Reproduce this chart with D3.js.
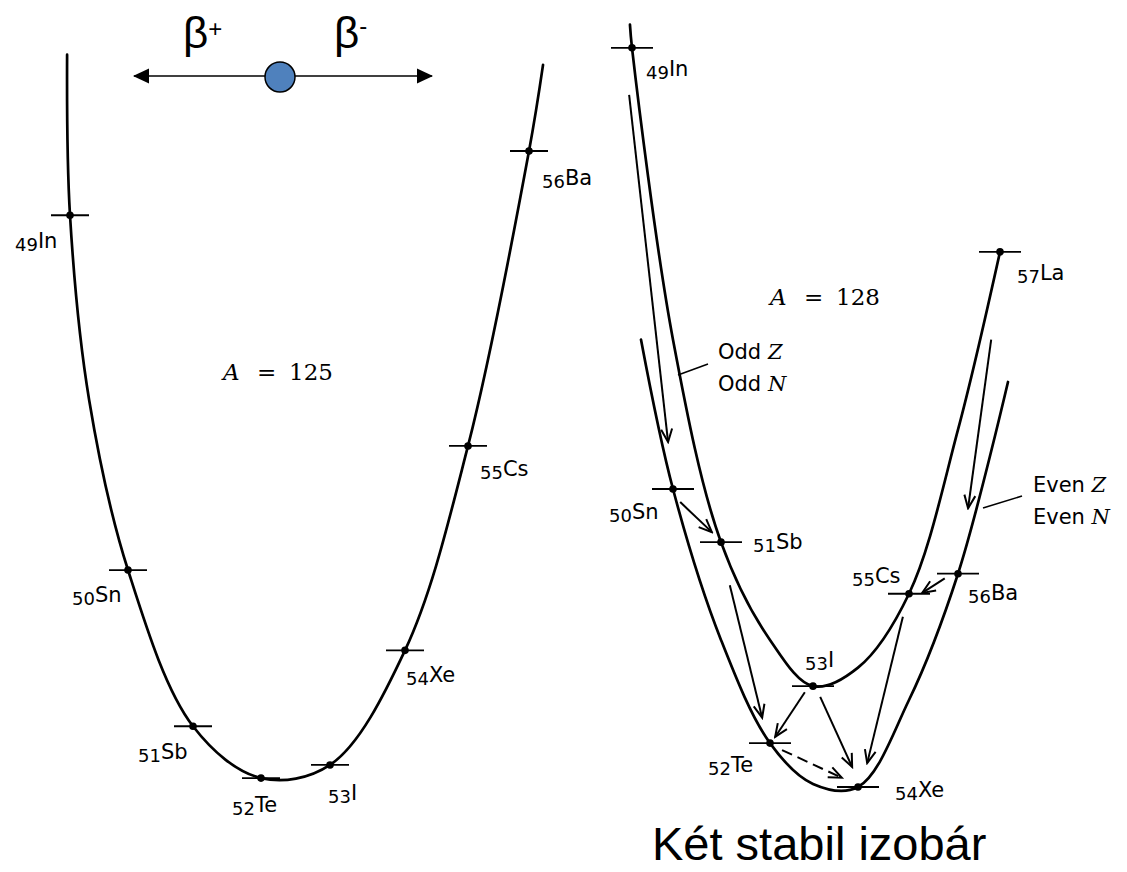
<!DOCTYPE html>
<html>
<head>
<meta charset="utf-8">
<script src="https://cdn.jsdelivr.net/npm/d3@7"></script>
<style>
  body { margin: 0; background: white; }
  svg { display: block; }
</style>
</head>
<body>
<svg id="chart"></svg>
<script>
/* -------- mass parabolas for A = 125 and A = 128 -------- */

// left panel, A = 125 (energy in arbitrary units)
let leftZ = [49, 50, 51, 52, 53, 54, 55, 56];
let leftSymbols = ["In", "Sn", "Sb", "Te", "I", "Xe", "Cs", "Ba"];
let leftEnergy = [7.75, 2.89, 0.75, 0.04, 0.22, 1.79, 4.59, 8.63];
// points
let leftCurveZ = [48.95, 49, 49.33, 50, 51, 52, 53, 54, 55, 56, 56.23];
let leftCurveEnergy = [9.95, 7.75, 5.22, 2.89, 0.75, 0.04, 0.22, 1.79, 4.59, 8.63, 9.81];

// right panel, A = 128
let rightZ = [49, 50, 51, 52, 53, 54, 55, 56, 57];
let rightSymbols = ["In", "Sn", "Sb", "Te", "I", "Xe", "Cs", "Ba", "La"];
let rightEnergy = [9.60, 3.87, 3.18, 0.57, 1.31, 0.00, 2.51, 2.77, 6.95];
let oddCurveZ = [48.95, 49, 50, 51, 52, 53, 54, 55, 56, 57];
let oddCurveEnergy = [9.90, 9.60, 5.81, 3.18, 1.91, 1.31, 1.55, 2.51, 4.64, 6.95];
let evenCurveZ = [49.22, 50, 51, 52, 53, 54, 55, 56, 57.19];
let evenCurveEnergy = [5.81, 3.87, 1.91, 0.57, 0.04, 0.00, 1.13, 2.77, 5.26];

// decay arrows: [fromZ, fromE, toZ, toE, dashed]
let decayArrows = [
    [48.93, 8.99, 49.88, 4.48, false],
    [50.15, 3.70, 50.81, 3.31, false],
    [51.18, 2.62, 51.84, 0.90, false],
    [52.81, 1.23, 52.12, 0.65, false],
    [53.16, 1.17, 53.87, 0.26, false],
    [54.88, 2.21, 54.18, 0.31, false],
    [55.73, 2.71, 55.27, 2.52, false],
    [52.28, 0.48, 53.64, 0.12, true],
    [56.79, 5.81, 56.24, 3.62, false]
];

// label placement (dx, dy from the point), layout only
let leftLabelOffsets = [[-55, 33], [-56, 32], [-55, 33], [-29, 34], [-2, 35], [1, 32], [12, 30], [13, 34]];
let rightLabelOffsets = [[14, 28], [-64, 30], [32, 7], [-62, 29], [-8, -19], [37, 10], [-57, -11], [10, 26], [17, 28]];

let width = 1127;
let height = 872;
let labelFont = "'DejaVu Sans', sans-serif";

let svg = d3.select("#chart")
    .attr("width", width)
    .attr("height", height);

let defs = svg.append("defs");

defs.append("marker")
    .attr("id", "head")
    .attr("viewBox", "-14 -7 16 14")
    .attr("refX", 0)
    .attr("refY", 0)
    .attr("markerWidth", 16)
    .attr("markerHeight", 14)
    .attr("markerUnits", "userSpaceOnUse")
    .attr("orient", "auto")
    .append("path")
        .attr("d", "M-13,-5.5 L0,0 L-13,5.5")
        .attr("fill", "none")
        .attr("stroke", "black")
        .attr("stroke-width", 2);

defs.append("marker")
    .attr("id", "betaHead")
    .attr("viewBox", "0 -8 16 16")
    .attr("refX", 15)
    .attr("refY", 0)
    .attr("markerWidth", 16)
    .attr("markerHeight", 16)
    .attr("markerUnits", "userSpaceOnUse")
    .attr("orient", "auto-start-reverse")
    .append("path")
        .attr("d", "M0,-7.5 L16,0 L0,7.5Z")
        .attr("fill", "black");

// scales: Z spacing in the drawing is not even, so polylinear ranges
let xL = d3.scaleLinear().domain(leftZ).range([70, 128, 193, 261, 330, 405, 468, 529]);
let yL = d3.scaleLinear().domain([0, 10]).range([781, 51]);
let xR = d3.scaleLinear().domain(rightZ).range([632, 673, 721, 770, 813, 858, 909, 958, 1000]);
let yR = d3.scaleLinear().domain([0, 10]).range([787, 17]);

function drawCurve(zs, es, sx, sy) {
    let line = d3.line()
        .x(d => sx(d[0]))
        .y(d => sy(d[1]))
        .curve(d3.curveCatmullRom.alpha(0.5));
    svg.append("path")
        .datum(d3.zip(zs, es))
        .attr("d", line)
        .attr("fill", "none")
        .attr("stroke", "black")
        .attr("stroke-width", 2.7)
        .attr("stroke-linecap", "round");
}

function drawNuclides(zs, symbols, es, offsets, sx, sy, half) {
    let data = zs.map((z, i) => ({ z: z, sym: symbols[i], e: es[i], off: offsets[i] }));
    let g = svg.append("g");
    g.selectAll("line.tick").data(data)
        .join("line")
        .attr("class", "tick")
        .attr("x1", d => sx(d.z) - half)
        .attr("x2", d => sx(d.z) + half)
        .attr("y1", d => sy(d.e))
        .attr("y2", d => sy(d.e))
        .attr("stroke", "black")
        .attr("stroke-width", 1.8);
    g.selectAll("circle").data(data)
        .join("circle")
        .attr("cx", d => sx(d.z))
        .attr("cy", d => sy(d.e))
        .attr("r", 3.8)
        .attr("fill", "black");
    let labels = g.selectAll("text").data(data)
        .join("text")
        .attr("x", d => sx(d.z) + d.off[0])
        .attr("y", d => sy(d.e) + d.off[1])
        .attr("font-family", labelFont)
        .attr("fill", "black");
    labels.append("tspan")
        .attr("font-size", 18)
        .attr("dy", 3)
        .text(d => d.z);
    labels.append("tspan")
        .attr("font-size", 21)
        .attr("dy", -3)
        .text(d => d.sym);
}

drawCurve(leftCurveZ, leftCurveEnergy, xL, yL);
drawNuclides(leftZ, leftSymbols, leftEnergy, leftLabelOffsets, xL, yL, 19);

drawCurve(oddCurveZ, oddCurveEnergy, xR, yR);
drawCurve(evenCurveZ, evenCurveEnergy, xR, yR);
drawNuclides(rightZ, rightSymbols, rightEnergy, rightLabelOffsets, xR, yR, 21);

svg.append("g")
    .selectAll("line").data(decayArrows)
    .join("line")
    .attr("x1", d => xR(d[0]))
    .attr("y1", d => yR(d[1]))
    .attr("x2", d => xR(d[2]))
    .attr("y2", d => yR(d[3]))
    .attr("stroke", "black")
    .attr("stroke-width", 2)
    .attr("stroke-dasharray", d => d[4] ? "11,6" : null)
    .attr("marker-end", "url(#head)");

// "A = ..." captions
function massLabel(x, y, value) {
    let t = svg.append("text")
        .attr("y", y)
        .attr("font-family", "'DejaVu Serif', serif")
        .attr("font-size", 23)
        .attr("fill", "black");
    t.append("tspan").attr("x", x).attr("font-style", "italic").text("A");
    t.append("tspan").attr("x", x + 34).text("=");
    t.append("tspan").attr("x", x + 66).text(value);
}
massLabel(223, 380, "125");
massLabel(770, 305, "128");

// curve legends
function curveLegend(x, y, word, lx1, ly1, lx2, ly2) {
    [["Z", 0], ["N", 32]].forEach(([letter, dy]) => {
        let t = svg.append("text")
            .attr("x", x)
            .attr("y", y + dy)
            .attr("font-family", labelFont)
            .attr("font-size", 21)
            .attr("fill", "black");
        t.append("tspan").text(word + " ");
        t.append("tspan")
            .attr("font-family", "'DejaVu Serif', serif")
            .attr("font-style", "italic")
            .text(letter);
    });
    svg.append("line")
        .attr("x1", lx1).attr("y1", ly1)
        .attr("x2", lx2).attr("y2", ly2)
        .attr("stroke", "black")
        .attr("stroke-width", 1.6);
}
curveLegend(718, 359, "Odd", 678, 375, 708, 364);
curveLegend(1033, 492, "Even", 983, 508, 1022, 496);

// beta decay direction sketch
svg.append("line")
    .attr("x1", 134).attr("y1", 76)
    .attr("x2", 432).attr("y2", 76)
    .attr("stroke", "black")
    .attr("stroke-width", 1.5)
    .attr("marker-start", "url(#betaHead)")
    .attr("marker-end", "url(#betaHead)");

svg.append("circle")
    .attr("cx", 280)
    .attr("cy", 77)
    .attr("r", 15)
    .attr("fill", "#4f81bd")
    .attr("stroke", "black")
    .attr("stroke-width", 1.5);

[["+", 183, -11], ["-", 334, -14]].forEach(([sign, x, shift]) => {
    let t = svg.append("text")
        .attr("x", x).attr("y", 48)
        .attr("font-family", "'Liberation Sans', Arial, sans-serif")
        .attr("font-size", 44)
        .attr("fill", "black");
    t.append("tspan").text("β");
    t.append("tspan")
        .attr("font-size", 24)
        .attr("dy", shift)
        .text(sign);
});

svg.append("text")
    .attr("x", 652)
    .attr("y", 860)
    .attr("font-family", "'Liberation Sans', Arial, sans-serif")
    .attr("font-size", 47)
    .attr("fill", "black")
    .text("Két stabil izobár");
</script>
</body>
</html>
